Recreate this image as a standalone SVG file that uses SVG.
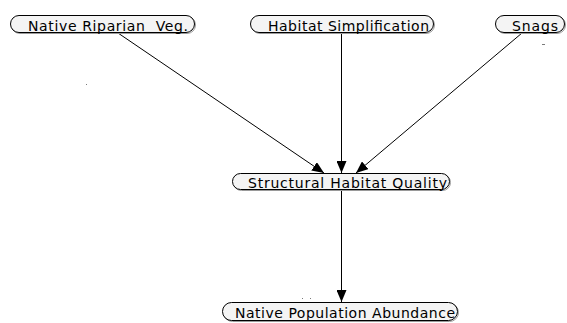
<svg xmlns="http://www.w3.org/2000/svg" width="567" height="323" viewBox="0 0 567 323">
  <style>
    .pill { fill: #f4f4f4; stroke: #000; stroke-width: 1; }
    .shadow { fill: none; stroke: #9a9a9a; stroke-width: 1; }
    .label { font-family: "DejaVu Sans", "Liberation Sans", sans-serif; font-size: 14px; fill: #000; }
    .edge { stroke: #000; stroke-width: 1; fill: none; marker-end: url(#arrow); }
    .speck { fill: #7a7a7a; }
  </style>
  <defs>
    <marker id="arrow" viewBox="0 0 12 10" refX="12" refY="5" markerWidth="12" markerHeight="10" markerUnits="userSpaceOnUse" orient="auto">
      <path d="M0,0 L12,5 L0,10 Z" fill="#000"/>
    </marker>
  </defs>
  <rect width="567" height="323" fill="#fff"/>

  <g id="connectors">
    <line class="edge" x1="118" y1="33" x2="324" y2="173"/>
    <line class="edge" x1="341.5" y1="32" x2="341.5" y2="173"/>
    <line class="edge" x1="522" y1="33" x2="356" y2="173"/>
    <line class="edge" x1="341.5" y1="189" x2="341.5" y2="302"/>
  </g>

  <g id="native-riparian-veg">
    <rect class="shadow" x="11.5" y="16.5" width="184" height="17" rx="8.5"/>
    <rect class="pill" x="10.5" y="15.5" width="184" height="17" rx="8.5"/>
    <text class="label" x="28" y="31" textLength="160" lengthAdjust="spacing" xml:space="preserve">Native Riparian  Veg.</text>
  </g>

  <g id="habitat-simplification">
    <rect class="shadow" x="251.5" y="16.5" width="183" height="17" rx="8.5"/>
    <rect class="pill" x="250.5" y="15.5" width="183" height="17" rx="8.5"/>
    <text class="label" x="268" y="31" textLength="161" lengthAdjust="spacing">Habitat Simplification</text>
  </g>

  <g id="snags">
    <rect class="shadow" x="496.5" y="16.5" width="69" height="17" rx="8.5"/>
    <rect class="pill" x="495.5" y="15.5" width="69" height="17" rx="8.5"/>
    <text class="label" x="512" y="31" textLength="46" lengthAdjust="spacing">Snags</text>
  </g>

  <g id="structural-habitat-quality">
    <rect class="shadow" x="233.5" y="174.5" width="217" height="16" rx="8"/>
    <rect class="pill" x="232.5" y="173.5" width="217" height="16" rx="8"/>
    <text class="label" x="248" y="188" textLength="199" lengthAdjust="spacing">Structural Habitat Quality</text>
  </g>

  <g id="native-population-abundance">
    <rect class="shadow" x="223.5" y="303.5" width="235" height="18" rx="9"/>
    <rect class="pill" x="222.5" y="302.5" width="235" height="18" rx="9"/>
    <text class="label" x="235" y="318" textLength="220" lengthAdjust="spacing">Native Population Abundance</text>
  </g>

  <!-- stray specks -->
  <rect class="speck" x="86" y="84" width="1" height="1"/>
  <rect class="speck" x="542" y="44" width="3" height="1"/>
  <rect class="speck" x="302" y="298" width="1" height="1"/>
  <rect class="speck" x="310" y="298" width="1" height="1"/>
</svg>
